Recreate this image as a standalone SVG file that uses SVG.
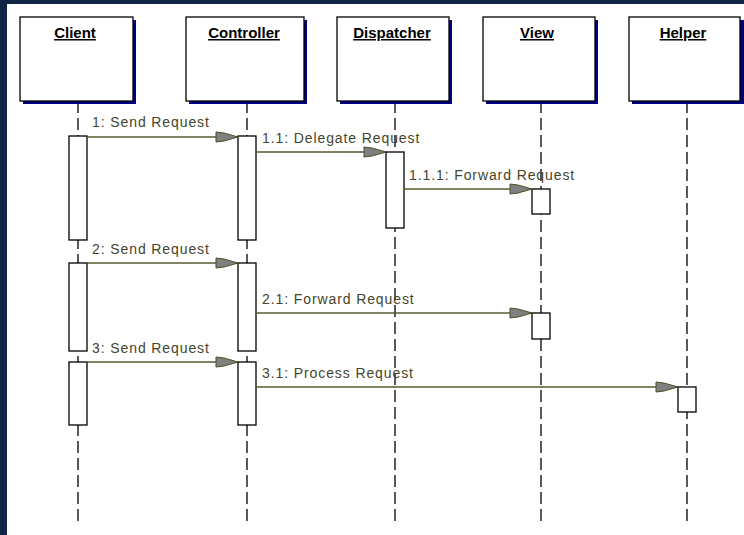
<svg xmlns="http://www.w3.org/2000/svg" width="744" height="535" viewBox="0 0 744 535">
<style>
.bg{fill:#0f2542}
.shadow{fill:#000080}
.box{fill:#fff;stroke:#000;stroke-width:1.3}
.title{font-family:"Liberation Sans",Arial,sans-serif;font-size:15px;font-weight:bold;fill:#000;text-anchor:middle;text-decoration:underline}
.life{stroke:#000;stroke-width:1.3;stroke-dasharray:12,5;fill:none}
.act{fill:#fff;stroke:#000;stroke-width:1.3}
.msg{stroke:#5a5a30;stroke-width:1.3;fill:none;marker-end:url(#ah)}
.lbl{font-family:"Liberation Sans",Arial,sans-serif;font-size:14px;letter-spacing:0.9px;fill:#45452a}
</style>
<defs>
<marker id="ah" markerWidth="26" markerHeight="14" refX="23" refY="6" orient="auto" markerUnits="userSpaceOnUse">
<polygon points="1,1 9,2 23,6 9,10 1,11" fill="#808080" stroke="#4d4d26" stroke-width="1"/>
</marker>
</defs>
<rect x="0" y="0" width="744" height="535" class="bg"/>
<rect x="7" y="4" width="737" height="531" fill="#fff"/>

<g id="lifelines">
<line class="life" x1="78" y1="101" x2="78" y2="525"/>
<line class="life" x1="247" y1="101" x2="247" y2="525"/>
<line class="life" x1="395" y1="101" x2="395" y2="525"/>
<line class="life" x1="541" y1="101" x2="541" y2="525"/>
<line class="life" x1="687" y1="101" x2="687" y2="525"/>
</g>

<g id="client">
<rect class="shadow" x="23" y="20" width="113" height="84"/>
<rect class="box" x="20" y="17" width="113" height="84"/>
<text class="title" x="75" y="38">Client</text>
</g>
<g id="controller">
<rect class="shadow" x="189" y="20" width="118" height="84"/>
<rect class="box" x="186" y="17" width="118" height="84"/>
<text class="title" x="244" y="38">Controller</text>
</g>
<g id="dispatcher">
<rect class="shadow" x="340" y="20" width="112" height="84"/>
<rect class="box" x="337" y="17" width="112" height="84"/>
<text class="title" x="392" y="38">Dispatcher</text>
</g>
<g id="view">
<rect class="shadow" x="486" y="20" width="112" height="84"/>
<rect class="box" x="483" y="17" width="112" height="84"/>
<text class="title" x="537" y="38">View</text>
</g>
<g id="helper">
<rect class="shadow" x="632" y="20" width="112" height="84"/>
<rect class="box" x="629" y="17" width="111" height="84"/>
<text class="title" x="683" y="38">Helper</text>
</g>

<g id="activations">
<rect class="act" x="69" y="136" width="18" height="104"/>
<rect class="act" x="238" y="136" width="18" height="104"/>
<rect class="act" x="386" y="152" width="18" height="76"/>
<rect class="act" x="532" y="189" width="18" height="25"/>
<rect class="act" x="69" y="263" width="18" height="88"/>
<rect class="act" x="238" y="263" width="18" height="88"/>
<rect class="act" x="532" y="313" width="18" height="26"/>
<rect class="act" x="69" y="362" width="18" height="63"/>
<rect class="act" x="238" y="362" width="18" height="63"/>
<rect class="act" x="678" y="387" width="18" height="25"/>
</g>

<g id="connectors">
<line class="msg" x1="87" y1="137" x2="238" y2="137"/>
<text class="lbl" x="92" y="127">1: Send Request</text>
<line class="msg" x1="256" y1="152" x2="386" y2="152"/>
<text class="lbl" x="262" y="143">1.1: Delegate Request</text>
<line class="msg" x1="404" y1="189" x2="532" y2="189"/>
<text class="lbl" x="409" y="180">1.1.1: Forward Request</text>
<line class="msg" x1="87" y1="263" x2="238" y2="263"/>
<text class="lbl" x="92" y="254">2: Send Request</text>
<line class="msg" x1="256" y1="313" x2="532" y2="313"/>
<text class="lbl" x="262" y="304">2.1: Forward Request</text>
<line class="msg" x1="87" y1="362" x2="238" y2="362"/>
<text class="lbl" x="92" y="353">3: Send Request</text>
<line class="msg" x1="256" y1="387" x2="678" y2="387"/>
<text class="lbl" x="262" y="378">3.1: Process Request</text>
</g>
</svg>
